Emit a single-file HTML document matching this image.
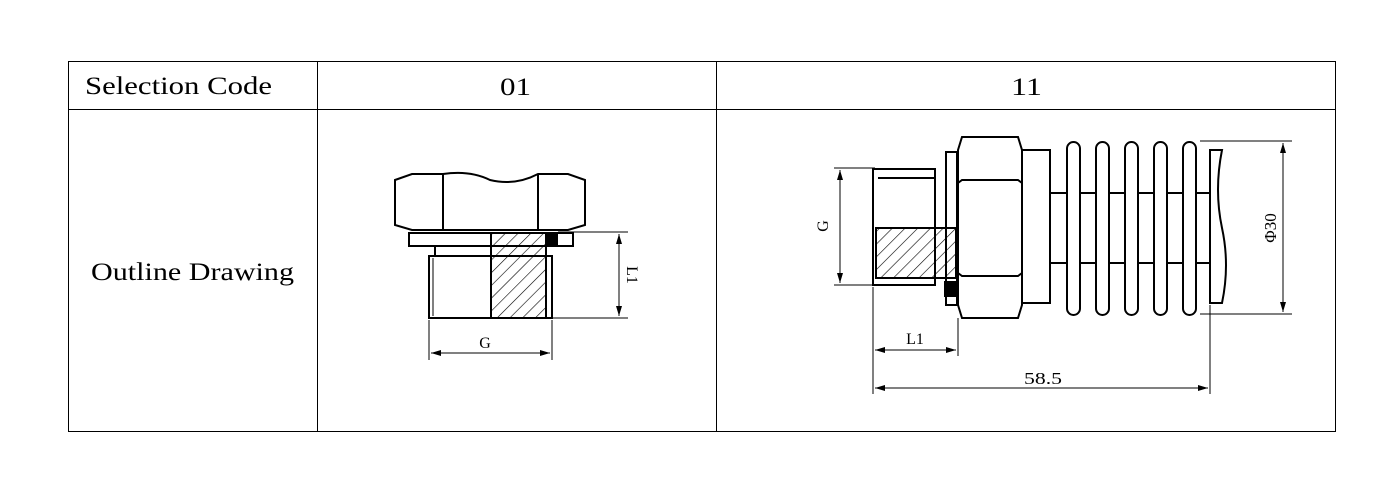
<!DOCTYPE html><html><head><style>body{margin:0;background:#fff}svg{display:block}</style></head><body>
<svg width="1400" height="500" xmlns="http://www.w3.org/2000/svg" font-family="Liberation Serif, serif">
<defs>
<pattern id="h" width="9" height="9" patternUnits="userSpaceOnUse" patternTransform="rotate(45)"><line x1="0" y1="0" x2="0" y2="9" stroke="#000" stroke-width="1.2"/></pattern>
<marker id="a" markerWidth="10" markerHeight="6" refX="10" refY="3" orient="auto-start-reverse"><path d="M0,0L10,3L0,6z" fill="#000"/></marker>
</defs>
<g fill="none" stroke="#000" stroke-width="1">
<rect x="68.5" y="61.5" width="1267" height="370"/>
<line x1="68" y1="109.5" x2="1336" y2="109.5"/>
<line x1="317.5" y1="61" x2="317.5" y2="432"/>
<line x1="716.5" y1="61" x2="716.5" y2="432"/>
</g>
<g font-size="25" fill="#000">
<text x="85" y="94" textLength="187" lengthAdjust="spacingAndGlyphs">Selection Code</text>
<text x="500" y="95" textLength="31" lengthAdjust="spacingAndGlyphs">01</text>
<text x="1011" y="95" textLength="31" lengthAdjust="spacingAndGlyphs">11</text>
<text x="91" y="280" textLength="203" lengthAdjust="spacingAndGlyphs">Outline Drawing</text>
</g>
<!-- drawing 01 -->
<g fill="none" stroke="#000" stroke-width="2">
<path d="M395,180 L412,174 L443,174 Q470,170 490,180 Q515,186 538,174 L568,174 L585,180 L585,225 L568,230 L412,230 L395,225 Z"/>
<line x1="443" y1="174" x2="443" y2="230"/><line x1="538" y1="174" x2="538" y2="230"/>
<rect x="409" y="233" width="164" height="13"/>
<line x1="435" y1="246" x2="435" y2="256"/>
<rect x="429" y="256" width="123" height="62"/>
<line x1="433" y1="258" x2="433" y2="316" stroke-width="1"/>
<rect x="491" y="233" width="55" height="85" fill="url(#h)"/>
<rect x="547" y="235" width="10" height="10" fill="#000"/>
</g>
<g stroke="#000" stroke-width="1" fill="none">
<line x1="558" y1="232" x2="628" y2="232"/><line x1="552" y1="318" x2="628" y2="318"/>
<line x1="619" y1="234" x2="619" y2="316" marker-start="url(#a)" marker-end="url(#a)"/>
<line x1="429" y1="320" x2="429" y2="360"/><line x1="552" y1="320" x2="552" y2="360"/>
<line x1="431" y1="353" x2="550" y2="353" marker-start="url(#a)" marker-end="url(#a)"/>
</g>
<text x="0" y="0" font-size="16" transform="translate(627,275) rotate(90)" text-anchor="middle">L1</text>
<text x="485" y="348" font-size="16" text-anchor="middle">G</text>
<!-- drawing 11 -->
<g fill="none" stroke="#000" stroke-width="2">
<rect x="873" y="169" width="62" height="116"/>
<line x1="878" y1="178" x2="935" y2="178"/>
<rect x="876" y="228" width="80" height="50" fill="url(#h)"/>
<rect x="946" y="152" width="11" height="153"/>
<rect x="945" y="282" width="10" height="14" fill="#000"/>
<path d="M962,137 L1018,137 L1022,150 L1022,305 L1018,318 L962,318 L958,305 L958,150 Z"/>
<path d="M958,183 L962,180 L1018,180 L1022,183 M958,273 L962,276 L1018,276 L1022,273"/>
<rect x="1022" y="150" width="28" height="153"/>
<line x1="1050" y1="193" x2="1210" y2="193"/><line x1="1050" y1="263" x2="1210" y2="263"/>
<rect x="1067" y="142" width="13" height="173" rx="6.5" fill="#fff"/>
<rect x="1096" y="142" width="13" height="173" rx="6.5" fill="#fff"/>
<rect x="1125" y="142" width="13" height="173" rx="6.5" fill="#fff"/>
<rect x="1154" y="142" width="13" height="173" rx="6.5" fill="#fff"/>
<rect x="1183" y="142" width="13" height="173" rx="6.5" fill="#fff"/>
<path d="M1210,150 L1222,150 Q1214,190 1222,228 Q1230,265 1222,303 L1210,303 Z" fill="#fff"/>
</g>
<g stroke="#000" stroke-width="1" fill="none">
<line x1="1200" y1="141" x2="1292" y2="141"/><line x1="1200" y1="314" x2="1292" y2="314"/>
<line x1="1283" y1="143" x2="1283" y2="312" marker-start="url(#a)" marker-end="url(#a)"/>
<line x1="834" y1="168" x2="875" y2="168"/><line x1="834" y1="285" x2="875" y2="285"/>
<line x1="840" y1="170" x2="840" y2="283" marker-start="url(#a)" marker-end="url(#a)"/>
<line x1="873" y1="287" x2="873" y2="394"/><line x1="958" y1="318" x2="958" y2="356"/>
<line x1="1210" y1="305" x2="1210" y2="394"/>
<line x1="875" y1="350" x2="956" y2="350" marker-start="url(#a)" marker-end="url(#a)"/>
<line x1="875" y1="388" x2="1208" y2="388" marker-start="url(#a)" marker-end="url(#a)"/>
</g>
<text font-size="16" transform="translate(828,226) rotate(-90)" text-anchor="middle">G</text>
<text font-size="17" transform="translate(1276,228) rotate(-90)" text-anchor="middle">Φ30</text>
<text x="915" y="344" font-size="16" text-anchor="middle">L1</text>
<text x="1024" y="384" font-size="17" textLength="38" lengthAdjust="spacingAndGlyphs">58.5</text>
</svg>
</body></html>
